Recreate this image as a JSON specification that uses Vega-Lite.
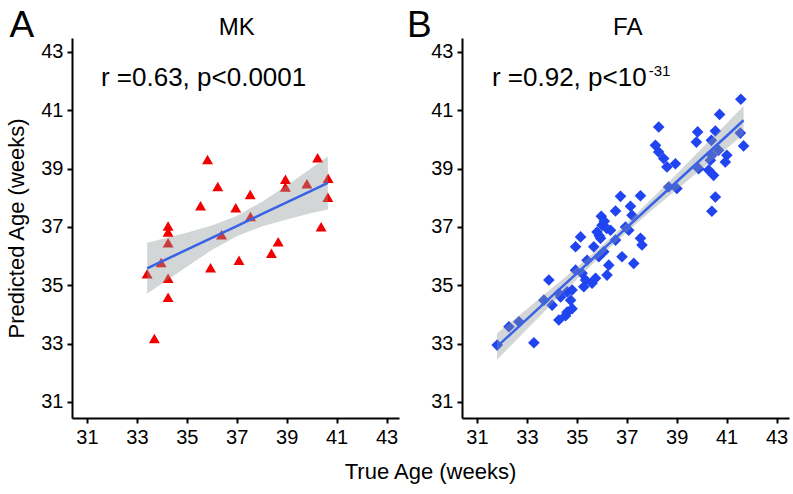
{
  "$schema": "https://vega.github.io/schema/vega-lite/v6.json",
  "background": "white",
  "padding": {"left": 5, "top": 7, "right": 3, "bottom": 5},
  "bounds": "flush",
  "spacing": 63,
  "config": {
    "font": "Liberation Sans",
    "view": {"stroke": null},
    "axis": {
      "grid": false,
      "domainColor": "black",
      "domainWidth": 2,
      "tickColor": "black",
      "tickWidth": 2,
      "tickSize": 5,
      "labelFont": "Liberation Sans",
      "labelFontSize": 20,
      "labelColor": "black",
      "labelPadding": 4,
      "titleFont": "Liberation Sans",
      "titleFontSize": 22,
      "titleFontWeight": "normal",
      "titleColor": "black"
    }
  },
  "datasets": {
    "mk": [
      {"trueAge": 33.70, "predAge": 33.18}, {"trueAge": 33.41, "predAge": 35.40},
      {"trueAge": 33.97, "predAge": 35.78}, {"trueAge": 34.25, "predAge": 37.03},
      {"trueAge": 34.25, "predAge": 36.83}, {"trueAge": 34.25, "predAge": 36.46},
      {"trueAge": 34.25, "predAge": 35.24}, {"trueAge": 34.25, "predAge": 34.59},
      {"trueAge": 35.95, "predAge": 35.60}, {"trueAge": 35.55, "predAge": 37.73},
      {"trueAge": 36.39, "predAge": 36.73}, {"trueAge": 36.96, "predAge": 37.66},
      {"trueAge": 37.55, "predAge": 37.36}, {"trueAge": 37.09, "predAge": 35.86},
      {"trueAge": 38.39, "predAge": 36.10}, {"trueAge": 38.66, "predAge": 36.49},
      {"trueAge": 40.38, "predAge": 37.01}, {"trueAge": 40.66, "predAge": 38.67},
      {"trueAge": 35.83, "predAge": 39.31}, {"trueAge": 36.24, "predAge": 38.39},
      {"trueAge": 37.54, "predAge": 38.11}, {"trueAge": 38.95, "predAge": 38.64},
      {"trueAge": 38.95, "predAge": 38.37}, {"trueAge": 39.81, "predAge": 38.48},
      {"trueAge": 40.24, "predAge": 39.37}, {"trueAge": 40.65, "predAge": 38.02}
    ],
    "mkfit": [
      {"trueAge": 33.41, "fit": 35.58, "lo": 34.72, "hi": 36.46},
      {"trueAge": 34.0, "fit": 35.82, "lo": 35.05, "hi": 36.59},
      {"trueAge": 35.0, "fit": 36.22, "lo": 35.64, "hi": 36.80},
      {"trueAge": 36.0, "fit": 36.63, "lo": 36.21, "hi": 37.05},
      {"trueAge": 37.0, "fit": 37.03, "lo": 36.68, "hi": 37.38},
      {"trueAge": 38.0, "fit": 37.44, "lo": 37.02, "hi": 37.86},
      {"trueAge": 39.0, "fit": 37.84, "lo": 37.26, "hi": 38.42},
      {"trueAge": 40.0, "fit": 38.25, "lo": 37.48, "hi": 39.02},
      {"trueAge": 40.65, "fit": 38.51, "lo": 37.60, "hi": 39.42}
    ],
    "fa": [
      {"trueAge": 41.57, "predAge": 41.38}, {"trueAge": 40.72, "predAge": 40.86},
      {"trueAge": 38.28, "predAge": 40.43}, {"trueAge": 39.84, "predAge": 40.26},
      {"trueAge": 40.55, "predAge": 40.29}, {"trueAge": 39.79, "predAge": 39.91},
      {"trueAge": 40.39, "predAge": 39.97}, {"trueAge": 41.55, "predAge": 40.22},
      {"trueAge": 41.68, "predAge": 39.78}, {"trueAge": 38.15, "predAge": 39.80},
      {"trueAge": 38.28, "predAge": 39.57}, {"trueAge": 38.48, "predAge": 39.35},
      {"trueAge": 38.61, "predAge": 39.06}, {"trueAge": 38.95, "predAge": 39.17},
      {"trueAge": 40.68, "predAge": 39.63}, {"trueAge": 41.01, "predAge": 39.46},
      {"trueAge": 40.95, "predAge": 39.23}, {"trueAge": 40.41, "predAge": 39.46},
      {"trueAge": 39.88, "predAge": 39.00}, {"trueAge": 40.35, "predAge": 39.29},
      {"trueAge": 40.28, "predAge": 38.95}, {"trueAge": 40.48, "predAge": 38.77},
      {"trueAge": 38.68, "predAge": 38.37}, {"trueAge": 39.01, "predAge": 38.32},
      {"trueAge": 40.55, "predAge": 38.03}, {"trueAge": 40.41, "predAge": 37.54},
      {"trueAge": 36.75, "predAge": 38.05}, {"trueAge": 37.55, "predAge": 38.07},
      {"trueAge": 36.55, "predAge": 37.55}, {"trueAge": 37.15, "predAge": 37.71},
      {"trueAge": 37.21, "predAge": 37.40}, {"trueAge": 35.98, "predAge": 37.37},
      {"trueAge": 36.01, "predAge": 37.06}, {"trueAge": 36.35, "predAge": 36.89},
      {"trueAge": 35.81, "predAge": 36.83}, {"trueAge": 36.95, "predAge": 37.00},
      {"trueAge": 37.08, "predAge": 36.89}, {"trueAge": 35.95, "predAge": 36.61},
      {"trueAge": 36.55, "predAge": 36.55}, {"trueAge": 37.55, "predAge": 36.61},
      {"trueAge": 37.61, "predAge": 36.38}, {"trueAge": 35.15, "predAge": 36.66},
      {"trueAge": 34.95, "predAge": 36.32}, {"trueAge": 35.68, "predAge": 36.32},
      {"trueAge": 36.08, "predAge": 36.15}, {"trueAge": 35.88, "predAge": 35.98},
      {"trueAge": 36.81, "predAge": 35.98}, {"trueAge": 36.28, "predAge": 35.69},
      {"trueAge": 37.28, "predAge": 35.75}, {"trueAge": 35.41, "predAge": 35.86},
      {"trueAge": 36.21, "predAge": 35.35}, {"trueAge": 34.95, "predAge": 35.52},
      {"trueAge": 35.21, "predAge": 35.41}, {"trueAge": 35.35, "predAge": 35.18},
      {"trueAge": 35.61, "predAge": 35.07}, {"trueAge": 35.75, "predAge": 35.24},
      {"trueAge": 35.28, "predAge": 34.95}, {"trueAge": 33.88, "predAge": 35.18},
      {"trueAge": 33.68, "predAge": 34.49}, {"trueAge": 34.01, "predAge": 34.32},
      {"trueAge": 34.28, "predAge": 34.72}, {"trueAge": 34.61, "predAge": 34.78},
      {"trueAge": 34.81, "predAge": 34.84}, {"trueAge": 34.35, "predAge": 34.60},
      {"trueAge": 34.81, "predAge": 34.20}, {"trueAge": 34.61, "predAge": 34.08},
      {"trueAge": 34.55, "predAge": 33.96}, {"trueAge": 34.28, "predAge": 33.81},
      {"trueAge": 32.68, "predAge": 33.75}, {"trueAge": 32.28, "predAge": 33.58},
      {"trueAge": 31.81, "predAge": 32.95}, {"trueAge": 33.28, "predAge": 33.03},
      {"trueAge": 36.10, "predAge": 37.20}, {"trueAge": 36.20, "predAge": 36.95},
      {"trueAge": 35.90, "predAge": 36.70}, {"trueAge": 34.75, "predAge": 34.49}
    ],
    "fafit": [
      {"trueAge": 31.80, "fit": 32.90, "lo": 32.45, "hi": 33.35},
      {"trueAge": 33.0, "fit": 33.84, "lo": 33.49, "hi": 34.19},
      {"trueAge": 34.0, "fit": 34.63, "lo": 34.36, "hi": 34.90},
      {"trueAge": 35.0, "fit": 35.41, "lo": 35.21, "hi": 35.61},
      {"trueAge": 36.0, "fit": 36.20, "lo": 36.04, "hi": 36.36},
      {"trueAge": 37.0, "fit": 36.98, "lo": 36.82, "hi": 37.14},
      {"trueAge": 38.0, "fit": 37.77, "lo": 37.57, "hi": 37.97},
      {"trueAge": 39.0, "fit": 38.55, "lo": 38.28, "hi": 38.82},
      {"trueAge": 40.0, "fit": 39.34, "lo": 38.99, "hi": 39.69},
      {"trueAge": 41.0, "fit": 40.12, "lo": 39.69, "hi": 40.55},
      {"trueAge": 41.68, "fit": 40.66, "lo": 40.17, "hi": 41.15}
    ]
  },
  "hconcat": [
    {
      "width": 327,
      "height": 380,
      "layer": [
        {
          "data": {"name": "mk"},
          "mark": {"type": "point", "shape": "triangle-up", "filled": true, "size": 120, "color": "#f00000", "opacity": 1},
          "encoding": {
            "x": {"field": "trueAge", "type": "quantitative",
              "scale": {"domain": [30.4, 43.5], "nice": false, "zero": false},
              "axis": {"values": [31, 33, 35, 37, 39, 41, 43], "title": "True Age (weeks)", "titleX": 358, "titlePadding": 14}},
            "y": {"field": "predAge", "type": "quantitative",
              "scale": {"domain": [30.45, 43.48], "nice": false, "zero": false},
              "axis": {"values": [31, 33, 35, 37, 39, 41, 43], "title": "Predicted Age (weeks)", "titlePadding": 12}}
          }
        },
        {
          "data": {"name": "mkfit"},
          "mark": {"type": "area", "color": "#8f9999", "opacity": 0.4},
          "encoding": {
            "x": {"field": "trueAge", "type": "quantitative"},
            "y": {"field": "lo", "type": "quantitative"},
            "y2": {"field": "hi"}
          }
        },
        {
          "data": {"name": "mkfit"},
          "mark": {"type": "line", "color": "#3a62e6", "strokeWidth": 2.5},
          "encoding": {
            "x": {"field": "trueAge", "type": "quantitative"},
            "y": {"field": "fit", "type": "quantitative"}
          }
        },
        {
          "data": {"values": [{"trueAge": 31.56, "predAge": 42.1, "label": "r =0.63, p<0.0001"}]},
          "mark": {"type": "text", "align": "left", "baseline": "middle", "fontSize": 26, "color": "black"},
          "encoding": {
            "x": {"field": "trueAge", "type": "quantitative"},
            "y": {"field": "predAge", "type": "quantitative"},
            "text": {"field": "label"}
          }
        },
        {
          "data": {"values": [{"trueAge": 37.0, "predAge": 43.6, "label": "MK"}]},
          "mark": {"type": "text", "align": "center", "baseline": "alphabetic", "fontSize": 24, "color": "black"},
          "encoding": {
            "x": {"field": "trueAge", "type": "quantitative"},
            "y": {"field": "predAge", "type": "quantitative"},
            "text": {"field": "label"}
          }
        },
        {
          "data": {"values": [{"trueAge": 27.9, "predAge": 43.51, "label": "A"}]},
          "mark": {"type": "text", "align": "left", "baseline": "alphabetic", "fontSize": 37, "color": "black"},
          "encoding": {
            "x": {"field": "trueAge", "type": "quantitative"},
            "y": {"field": "predAge", "type": "quantitative"},
            "text": {"field": "label"}
          }
        }
      ]
    },
    {
      "width": 327,
      "height": 380,
      "layer": [
        {
          "data": {"name": "fa"},
          "mark": {"type": "point", "shape": "diamond", "filled": true, "size": 135, "color": "#1f44f0", "opacity": 1},
          "encoding": {
            "x": {"field": "trueAge", "type": "quantitative",
              "scale": {"domain": [30.4, 43.5], "nice": false, "zero": false},
              "axis": {"values": [31, 33, 35, 37, 39, 41, 43], "title": null}},
            "y": {"field": "predAge", "type": "quantitative",
              "scale": {"domain": [30.45, 43.48], "nice": false, "zero": false},
              "axis": {"values": [31, 33, 35, 37, 39, 41, 43], "title": null}}
          }
        },
        {
          "data": {"name": "fafit"},
          "mark": {"type": "area", "color": "#8f9999", "opacity": 0.4},
          "encoding": {
            "x": {"field": "trueAge", "type": "quantitative"},
            "y": {"field": "lo", "type": "quantitative"},
            "y2": {"field": "hi"}
          }
        },
        {
          "data": {"name": "fafit"},
          "mark": {"type": "line", "color": "#3a62e6", "strokeWidth": 2.5},
          "encoding": {
            "x": {"field": "trueAge", "type": "quantitative"},
            "y": {"field": "fit", "type": "quantitative"}
          }
        },
        {
          "data": {"values": [{"trueAge": 31.6, "predAge": 42.1, "label": "r =0.92, p<10"}]},
          "mark": {"type": "text", "align": "left", "baseline": "middle", "fontSize": 26, "color": "black"},
          "encoding": {
            "x": {"field": "trueAge", "type": "quantitative"},
            "y": {"field": "predAge", "type": "quantitative"},
            "text": {"field": "label"}
          }
        },
        {
          "data": {"values": [{"trueAge": 37.88, "predAge": 42.36, "label": "-31"}]},
          "mark": {"type": "text", "align": "left", "baseline": "middle", "fontSize": 15, "color": "black"},
          "encoding": {
            "x": {"field": "trueAge", "type": "quantitative"},
            "y": {"field": "predAge", "type": "quantitative"},
            "text": {"field": "label"}
          }
        },
        {
          "data": {"values": [{"trueAge": 37.04, "predAge": 43.6, "label": "FA"}]},
          "mark": {"type": "text", "align": "center", "baseline": "alphabetic", "fontSize": 24, "color": "black"},
          "encoding": {
            "x": {"field": "trueAge", "type": "quantitative"},
            "y": {"field": "predAge", "type": "quantitative"},
            "text": {"field": "label"}
          }
        },
        {
          "data": {"values": [{"trueAge": 28.2, "predAge": 43.51, "label": "B"}]},
          "mark": {"type": "text", "align": "left", "baseline": "alphabetic", "fontSize": 37, "color": "black"},
          "encoding": {
            "x": {"field": "trueAge", "type": "quantitative"},
            "y": {"field": "predAge", "type": "quantitative"},
            "text": {"field": "label"}
          }
        }
      ]
    }
  ]
}
